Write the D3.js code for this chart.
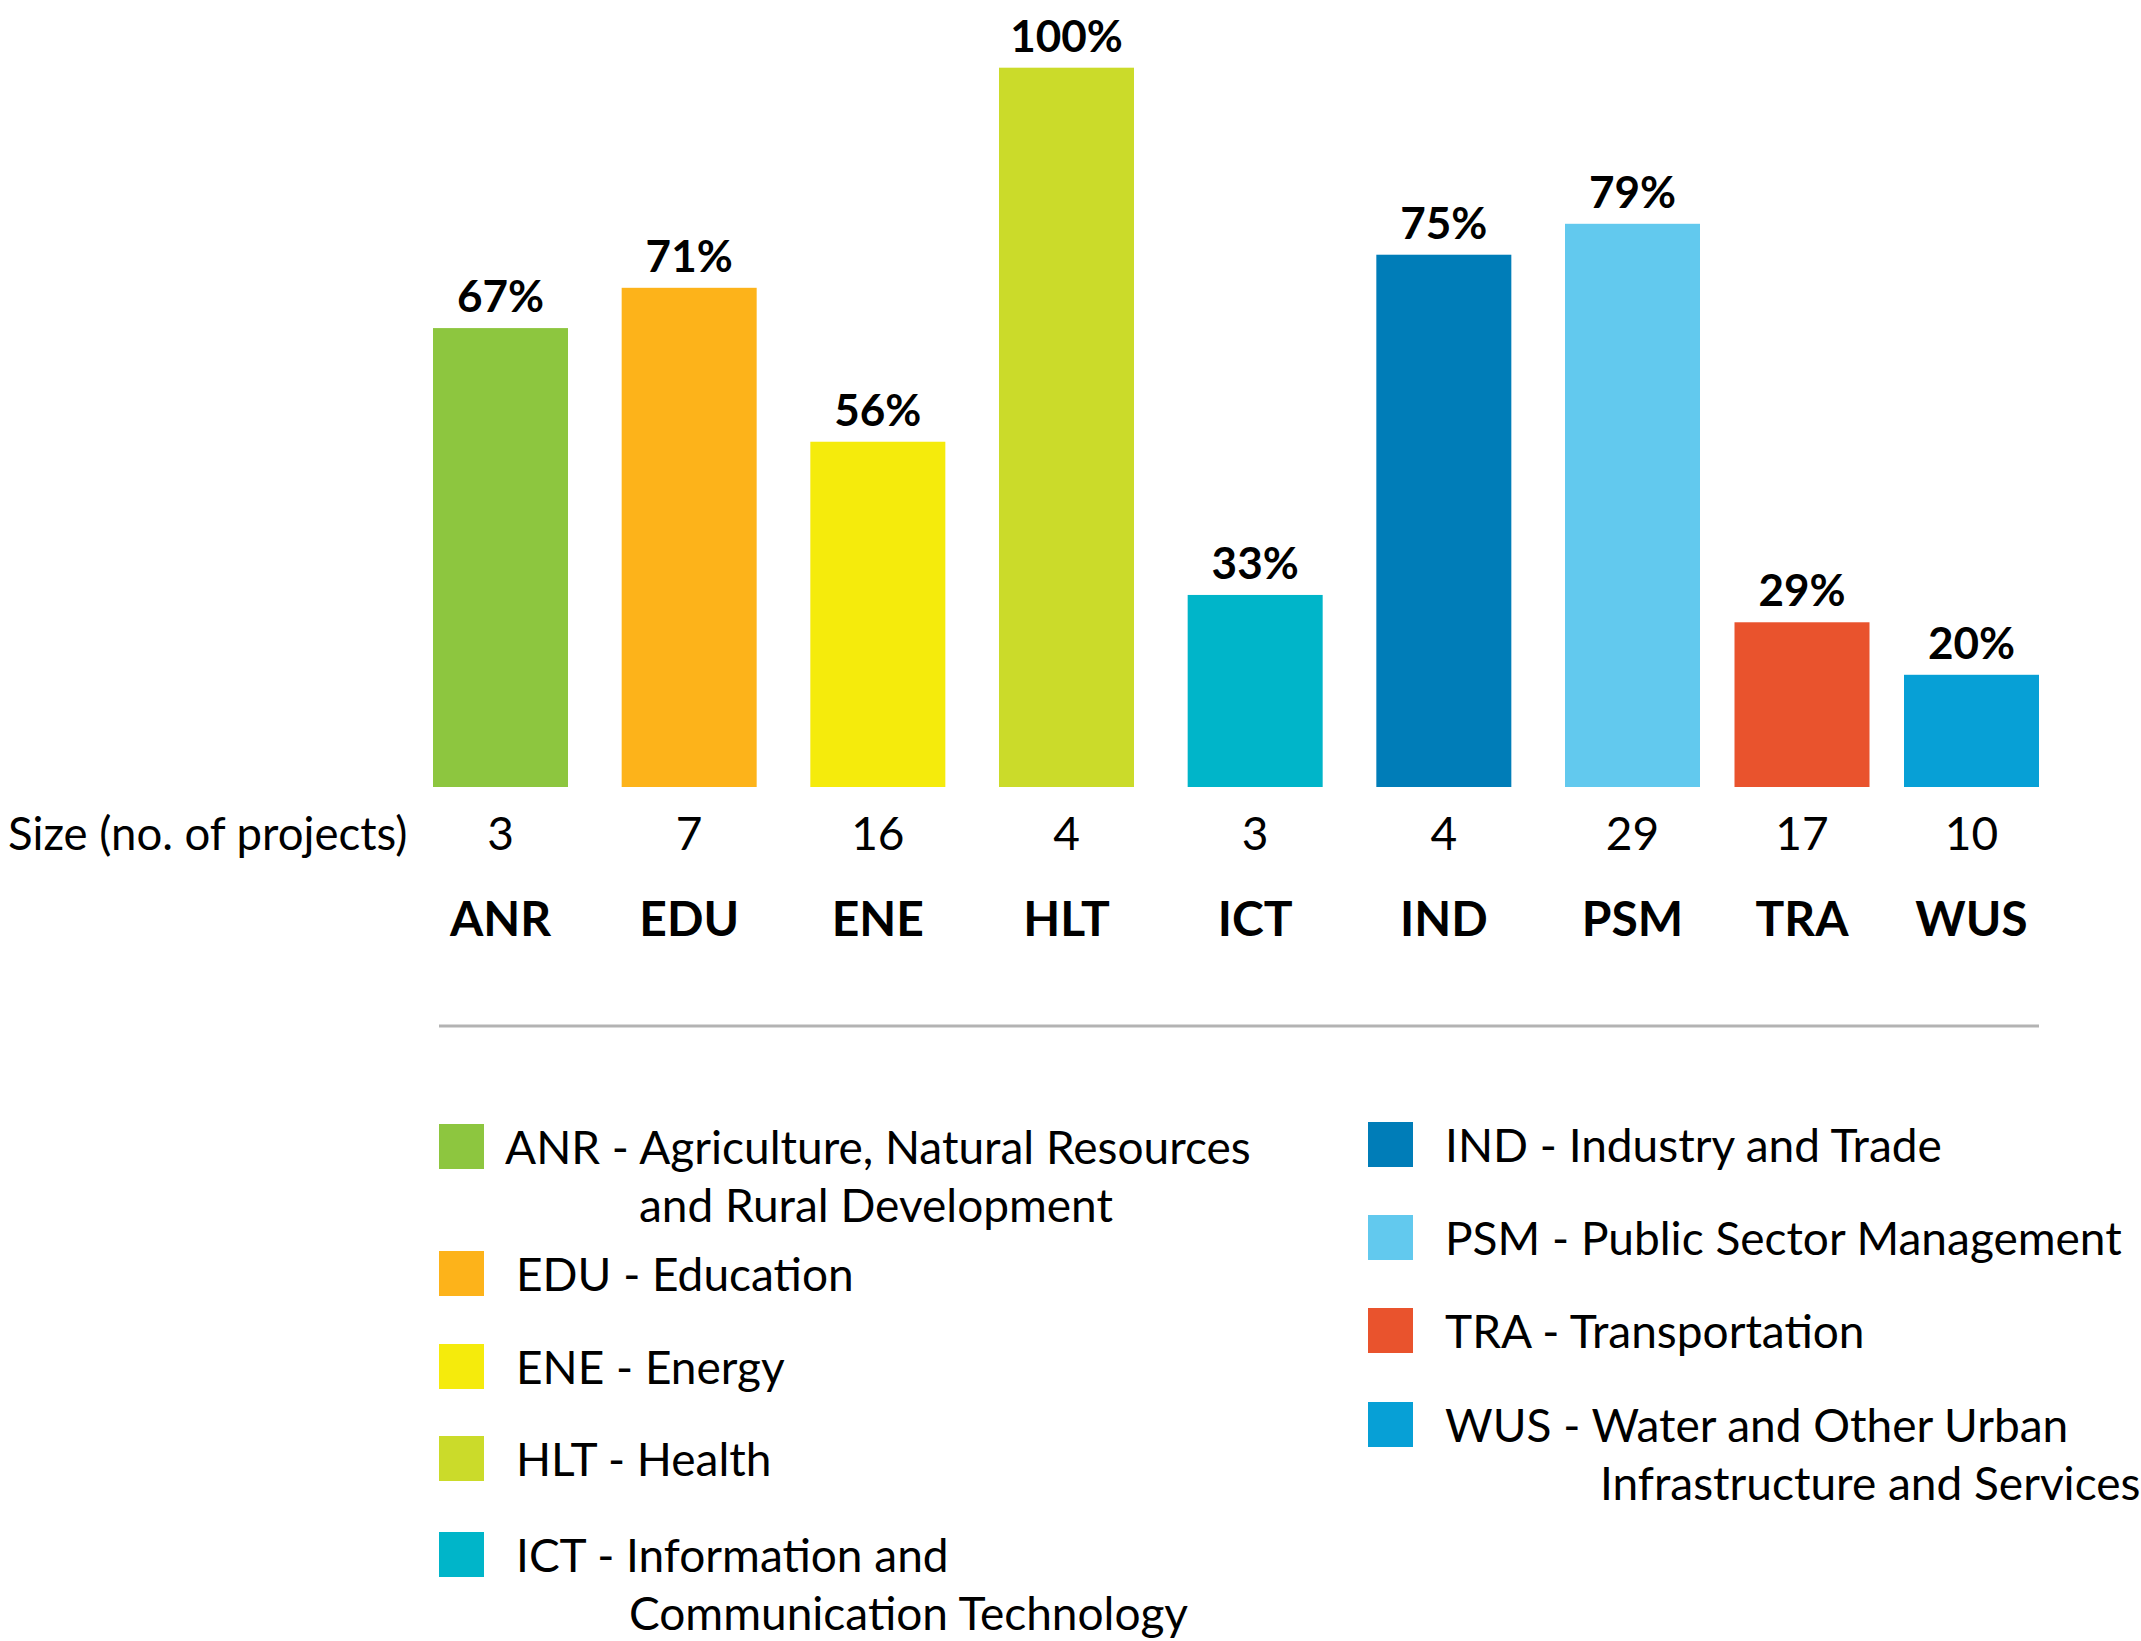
<!DOCTYPE html>
<html>
<head>
<meta charset="utf-8">
<script src="https://cdn.jsdelivr.net/npm/d3@7/dist/d3.min.js"></script>
<style>
  html, body { margin: 0; padding: 0; background: #ffffff; }
  svg { display: block; }
  text { font-family: Lato, "Open Sans", sans-serif; fill: #000; }
</style>
</head>
<body>
<div id="chart"></div>
<script>
// ---- data ----
const categories = ["ANR", "EDU", "ENE", "HLT", "ICT", "IND", "PSM", "TRA", "WUS"];
// bar heights as drawn (percent of the tallest bar)
const barValues = [63.8, 69.4, 48.0, 100, 26.7, 74.0, 78.3, 22.9, 15.6];
// printed labels above the bars
const shareLabels = ["67%", "71%", "56%", "100%", "33%", "75%", "79%", "29%", "20%"];
const projectCounts = [3, 7, 16, 4, 3, 4, 29, 17, 10];
const colors = ["#8dc63f", "#fdb31a", "#f5eb0c", "#cbdb2a", "#00b5c9", "#007db8", "#62c9ee", "#e9532d", "#07a0d6"];
const sizeRowLabel = "Size (no. of projects)";

const legendLeft = [
  { code: "ANR", lines: ["ANR - Agriculture, Natural Resources", "and Rural Development"] },
  { code: "EDU", lines: ["EDU - Education"] },
  { code: "ENE", lines: ["ENE - Energy"] },
  { code: "HLT", lines: ["HLT - Health"] },
  { code: "ICT", lines: ["ICT - Information and", "Communication Technology"] }
];
const legendRight = [
  { code: "IND", lines: ["IND - Industry and Trade"] },
  { code: "PSM", lines: ["PSM - Public Sector Management"] },
  { code: "TRA", lines: ["TRA - Transportation"] },
  { code: "WUS", lines: ["WUS - Water and Other Urban", "Infrastructure and Services"] }
];

// ---- layout ----
const W = 2141, H = 1641;
const svg = d3.select("#chart").append("svg").attr("width", W).attr("height", H);

const barW = 135;
const x = d3.scaleLinear().domain([0, 6, 8]).range([433, 1565, 1904]);
const y = d3.scaleLinear().domain([0, 100]).range([787, 67.7]);
const color = d3.scaleOrdinal().domain(categories).range(colors);

const data = categories.map((c, i) => ({ c, v: barValues[i], lab: shareLabels[i], n: projectCounts[i] }));

svg.append("g").selectAll("rect").data(data).join("rect")
  .attr("x", (d, i) => x(i))
  .attr("y", d => y(d.v))
  .attr("width", barW)
  .attr("height", d => y(0) - y(d.v))
  .attr("fill", d => color(d.c));

svg.append("g").selectAll("text").data(data).join("text")
  .attr("x", (d, i) => x(i) + barW / 2)
  .attr("y", d => y(d.v) - 16)
  .attr("text-anchor", "middle")
  .style("font-size", "44px")
  .style("font-weight", 700)
  .text(d => d.lab);

// size row
svg.append("text").attr("x", 8).attr("y", 850)
  .style("font-size", "45.5px").text(sizeRowLabel);
svg.append("g").selectAll("text").data(data).join("text")
  .attr("x", (d, i) => x(i) + barW / 2)
  .attr("y", 850)
  .attr("text-anchor", "middle")
  .style("font-size", "46px")
  .text(d => d.n);

// category labels
svg.append("g").selectAll("text").data(data).join("text")
  .attr("x", (d, i) => x(i) + barW / 2)
  .attr("y", 936)
  .attr("text-anchor", "middle")
  .style("font-size", "48px")
  .style("font-weight", 700)
  .text(d => d.c);

// divider
svg.append("line")
  .attr("x1", 439).attr("x2", x(8) + barW)
  .attr("y1", 1026).attr("y2", 1026)
  .attr("stroke", "#b3b3b3").attr("stroke-width", 3);

// legend
function drawLegend(items, swX, textX, tops, indentX) {
  const g = svg.append("g");
  items.forEach((it, k) => {
    const top = tops[k];
    g.append("rect").attr("x", swX).attr("y", top).attr("width", 45).attr("height", 45)
      .attr("fill", color(it.code));
    it.lines.forEach((ln, j) => {
      g.append("text")
        .attr("x", j === 0 ? textX[k] : indentX[k])
        .attr("y", top + 40 + j * 58)
        .style("font-size", "46px")
        .text(ln);
    });
  });
}
drawLegend(legendLeft, 439, [505, 516, 516, 516, 516], [1124, 1251, 1344, 1436, 1532], [639, 0, 0, 0, 629]);
drawLegend(legendRight, 1368, [1445, 1445, 1445, 1445], [1122, 1215, 1308, 1402], [0, 0, 0, 1600]);
</script>
</body>
</html>
